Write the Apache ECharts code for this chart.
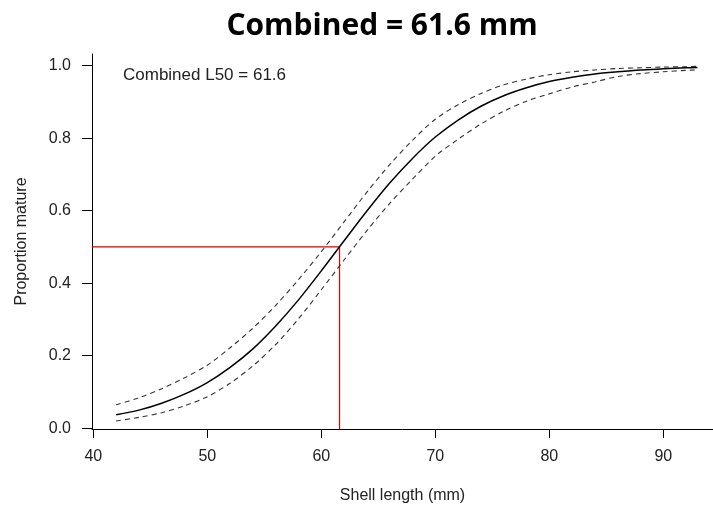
<!DOCTYPE html>
<html>
<head>
<meta charset="utf-8">
<script src="https://cdn.jsdelivr.net/npm/echarts@6/dist/echarts.min.js"></script>
<style>
  html, body { margin: 0; padding: 0; background: #fff; }
  #chart { width: 713px; height: 509px; }
</style>
</head>
<body>
<div id="chart"></div>
<script>
// shell length (mm) and fitted maturity ogive
var lengths = [42, 44, 46, 48, 50, 52, 54, 56, 58, 60, 62, 64, 66, 68, 70, 72, 74, 76, 78, 80, 82, 84, 86, 88, 90, 92, 93];
var fitted = [0.037, 0.050, 0.069, 0.094, 0.126, 0.168, 0.219, 0.282, 0.354, 0.434, 0.517, 0.599, 0.676, 0.744, 0.803, 0.850, 0.888, 0.917, 0.939, 0.956, 0.968, 0.977, 0.983, 0.988, 0.991, 0.994, 0.995];
var upperCI = [0.065, 0.084, 0.109, 0.139, 0.174, 0.222, 0.276, 0.339, 0.410, 0.487, 0.569, 0.651, 0.727, 0.794, 0.852, 0.892, 0.923, 0.947, 0.963, 0.975, 0.983, 0.988, 0.992, 0.994, 0.996, 0.997, 0.998];
var lowerCI = [0.020, 0.030, 0.043, 0.062, 0.087, 0.124, 0.172, 0.231, 0.302, 0.382, 0.464, 0.545, 0.620, 0.687, 0.750, 0.797, 0.839, 0.874, 0.902, 0.922, 0.941, 0.955, 0.970, 0.978, 0.983, 0.987, 0.988];

var xTicks = [40, 50, 60, 70, 80, 90];
var yTicks = [0, 0.2, 0.4, 0.6, 0.8, 1.0];

var l50 = 61.6;
var l50Level = 0.5;

var xMin = 39.886, xMax = 94.36;
var yMin = -0.002, yMax = 1.032;

function pairs(ys) {
  return lengths.map(function (x, i) { return [x, ys[i]]; });
}

var font = "'Liberation Sans', Arial, sans-serif";

var option = {
  animation: false,
  backgroundColor: "#fff",
  grid: { left: 92, right: 0, top: 54, bottom: 80, containLabel: false },
  graphic: [
    {
      type: "text",
      x: 382,
      y: 26,
      style: {
        text: "Combined = 61.6 mm",
        font: "bold 30px 'Open Sans', 'Liberation Sans', sans-serif",
        fill: "#000",
        align: "center",
        verticalAlign: "middle"
      }
    },
    {
      type: "text",
      x: 123,
      y: 75,
      style: {
        text: "Combined L50 = 61.6",
        font: "17px " + font,
        fill: "#222",
        align: "left",
        verticalAlign: "middle"
      }
    }
  ],
  xAxis: {
    type: "value",
    min: xMin,
    max: xMax,
    name: "Shell length (mm)",
    nameLocation: "middle",
    nameGap: 59,
    nameTextStyle: { fontFamily: font, fontSize: 16, color: "#222" },
    axisLine: { show: true, onZero: false, lineStyle: { color: "#000", width: 1 } },
    axisTick: { show: true, length: 9, customValues: xTicks, lineStyle: { color: "#000" } },
    axisLabel: {
      customValues: xTicks,
      margin: 20,
      fontFamily: font,
      fontSize: 16,
      color: "#222"
    },
    splitLine: { show: false }
  },
  yAxis: {
    type: "value",
    min: yMin,
    max: yMax,
    name: "Proportion mature",
    nameLocation: "middle",
    nameGap: 62,
    nameRotate: 90,
    nameTextStyle: { fontFamily: font, fontSize: 16, color: "#222" },
    axisLine: { show: true, onZero: false, lineStyle: { color: "#000", width: 1 } },
    axisTick: { show: true, length: 10, customValues: yTicks, lineStyle: { color: "#000" } },
    axisLabel: {
      customValues: yTicks,
      margin: 21,
      fontFamily: font,
      fontSize: 16,
      color: "#222",
      formatter: function (v) { return v.toFixed(1); }
    },
    splitLine: { show: false }
  },
  series: [
    {
      name: "L50",
      type: "line",
      data: [[xMin, l50Level], [l50, l50Level], [l50, yMin]],
      symbol: "none",
      lineStyle: { color: "#e00000", width: 1.2 },
      z: 1
    },
    {
      name: "upper",
      type: "line",
      data: pairs(upperCI),
      smooth: 0.3,
      symbol: "none",
      lineStyle: { color: "#333", width: 1.1, type: [5, 4] },
      z: 2
    },
    {
      name: "lower",
      type: "line",
      data: pairs(lowerCI),
      smooth: 0.3,
      symbol: "none",
      lineStyle: { color: "#333", width: 1.1, type: [5, 4] },
      z: 2
    },
    {
      name: "fitted",
      type: "line",
      data: pairs(fitted),
      smooth: 0.3,
      symbol: "none",
      lineStyle: { color: "#000", width: 1.5 },
      z: 3
    }
  ]
};

var myChart = echarts.init(document.getElementById("chart"), null, { renderer: "canvas" });
myChart.setOption(option);
window.addEventListener("resize", function () {
  myChart.resize();
});
</script>
</body>
</html>
